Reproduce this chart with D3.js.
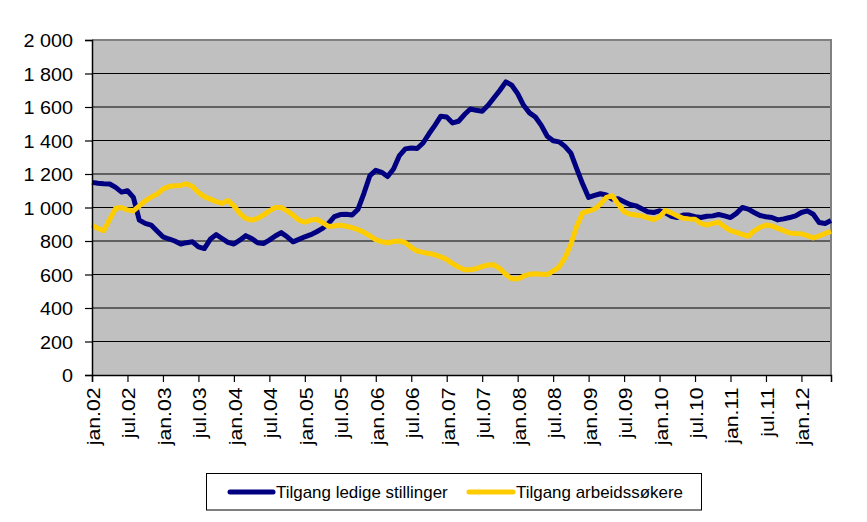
<!DOCTYPE html>
<html>
<head>
<meta charset="utf-8">
<script src="https://cdn.jsdelivr.net/npm/d3@7"></script>
<style>
  html, body { margin: 0; padding: 0; background: #fff; }
  svg { display: block; font-family: "Liberation Sans", Arial, sans-serif; }
</style>
</head>
<body>
<svg id="chart" width="867" height="522"></svg>
<script>
// ---- data ----
const monthNames = ["jan","feb","mar","apr","mai","jun","jul","aug","sep","okt","nov","des"];
const years = ["02","03","04","05","06","07","08","09","10","11","12"];
const categories = [];
years.forEach(y => monthNames.forEach(m => categories.push(m + "." + y)));
categories.length = 126; // jan.02 .. jun.12

const tickLabelsX = ["jan.02","jul.02","jan.03","jul.03","jan.04","jul.04","jan.05","jul.05",
  "jan.06","jul.06","jan.07","jul.07","jan.08","jul.08","jan.09","jul.09","jan.10","jul.10",
  "jan.11","jul.11","jan.12"];

const yTickValues = [0,200,400,600,800,1000,1200,1400,1600,1800,2000];
const yTickLabels = ["0","200","400","600","800","1 000","1 200","1 400","1 600","1 800","2 000"];

const seriesNames = ["Tilgang ledige stillinger","Tilgang arbeidssøkere"];

const ledigeStillinger = [
  1150,1145,1142,1140,1120,1092,1100,1060,925,905,895,860,
  825,812,800,782,790,795,765,755,810,838,815,792,
  782,805,832,815,790,785,805,830,850,825,795,810,
  825,838,855,875,905,945,958,960,955,990,1085,1190,
  1222,1210,1185,1230,1310,1350,1355,1352,1385,1440,1490,1545,
  1540,1505,1515,1555,1588,1580,1575,1610,1655,1700,1750,1730,
  1680,1610,1565,1540,1490,1425,1398,1392,1365,1325,1230,1140,
  1060,1072,1082,1075,1050,1052,1035,1018,1010,992,975,970,
  980,968,948,940,955,955,945,940,948,950,958,950,
  940,965,1000,990,970,952,945,940,926,932,940,950,
  970,980,960,910,905,922
];

const arbeidssokere = [
  895,875,862,930,995,1000,985,980,1010,1040,1062,1080,
  1110,1125,1130,1132,1142,1125,1090,1065,1050,1035,1025,1042,
  1010,965,935,925,935,955,980,1000,1000,980,955,925,
  912,925,930,910,888,890,895,888,880,868,852,830,
  808,796,790,797,800,790,762,740,732,725,718,705,
  690,665,645,628,628,635,648,657,658,635,600,575,
  574,590,602,604,602,600,620,645,700,780,890,968,
  980,990,1020,1060,1070,1020,975,960,955,950,938,928,
  945,982,968,950,936,932,930,905,895,905,912,885,
  862,852,840,828,860,882,895,890,875,862,848,845,
  843,832,818,830,845,858
];

const colors = ["#000080", "#FFCC00"];

// ---- layout ----
const svg = d3.select("#chart");
const L = 92, R = 831, T = 40, B = 375;

const x = d3.scalePoint().domain(categories).range([L, R]);
const y = d3.scaleLinear().domain([0, 2000]).range([B, T]);

svg.append("rect").attr("width", 867).attr("height", 522).attr("fill", "#fff");

// plot area
svg.append("rect")
  .attr("x", L).attr("y", T).attr("width", R - L).attr("height", B - T)
  .attr("fill", "#C0C0C0");

// gridlines
svg.append("g").selectAll("line")
  .data(yTickValues.filter(v => v > 0 && v < 2000))
  .join("line")
  .attr("x1", L).attr("x2", R)
  .attr("y1", d => y(d)).attr("y2", d => y(d))
  .attr("stroke", "#000").attr("stroke-width", 1.2);

// top & right border (gray)
svg.append("path")
  .attr("d", `M${L},${T}H${R}V${B}`)
  .attr("fill", "none").attr("stroke", "#808080").attr("stroke-width", 2);

// lines (first series drawn first, second on top)
const series = [ledigeStillinger, arbeidssokere];
const lineGen = d3.line()
  .x((d, i) => x(categories[i]))
  .y(d => y(d));

[0, 1].forEach(k => {
  svg.append("path")
    .datum(series[k])
    .attr("d", lineGen)
    .attr("fill", "none")
    .attr("stroke", colors[k])
    .attr("stroke-width", 5)
    .attr("stroke-linejoin", "round");
});

// y axis
const yAxis = d3.axisLeft(y)
  .tickValues(yTickValues)
  .tickFormat((d, i) => yTickLabels[i])
  .tickSize(7).tickPadding(0);
const gy = svg.append("g").attr("transform", `translate(${L},0)`).call(yAxis);
gy.select(".domain").attr("stroke", "#000").attr("stroke-width", 1.5);
gy.selectAll(".tick line").attr("stroke", "#000").attr("stroke-width", 1.2);
gy.selectAll(".tick text")
  .attr("x", null).attr("dy", null)
  .attr("font-size", 18).attr("fill", "#000")
  .attr("text-anchor", "end")
  .attr("transform", "translate(-19,6.5) scale(1.1,1)");

// x axis
const xAxis = d3.axisBottom(x)
  .tickValues(tickLabelsX)
  .tickSize(7).tickPadding(0);
const gx = svg.append("g").attr("transform", `translate(0,${B})`).call(xAxis);
gx.select(".domain").attr("stroke", "#000").attr("stroke-width", 1.5);
gx.selectAll(".tick line").attr("stroke", "#000").attr("stroke-width", 1.2);
gx.selectAll(".tick text")
  .attr("y", null).attr("dy", null)
  .attr("font-size", 18).attr("fill", "#000")
  .attr("text-anchor", "end")
  .attr("transform", "translate(7.5,12.5) rotate(-90) scale(1.18,1)");

// legend
const lg = svg.append("g");
lg.append("rect")
  .attr("x", 206.5).attr("y", 473.5).attr("width", 495).attr("height", 36.5)
  .attr("fill", "#fff").attr("stroke", "#000").attr("stroke-width", 1);
const legendItems = [
  { x1: 230, x2: 273, tx: 276 },
  { x1: 469, x2: 513, tx: 516 }
];
legendItems.forEach((it, k) => {
  lg.append("line")
    .attr("x1", it.x1).attr("x2", it.x2).attr("y1", 492).attr("y2", 492)
    .attr("stroke", colors[k]).attr("stroke-width", 5).attr("stroke-linecap", "round");
  lg.append("text")
    .attr("transform", `translate(${it.tx},498) scale(1.06,1)`)
    .attr("font-size", 16).attr("fill", "#000")
    .text(seriesNames[k]);
});
</script>
</body>
</html>
